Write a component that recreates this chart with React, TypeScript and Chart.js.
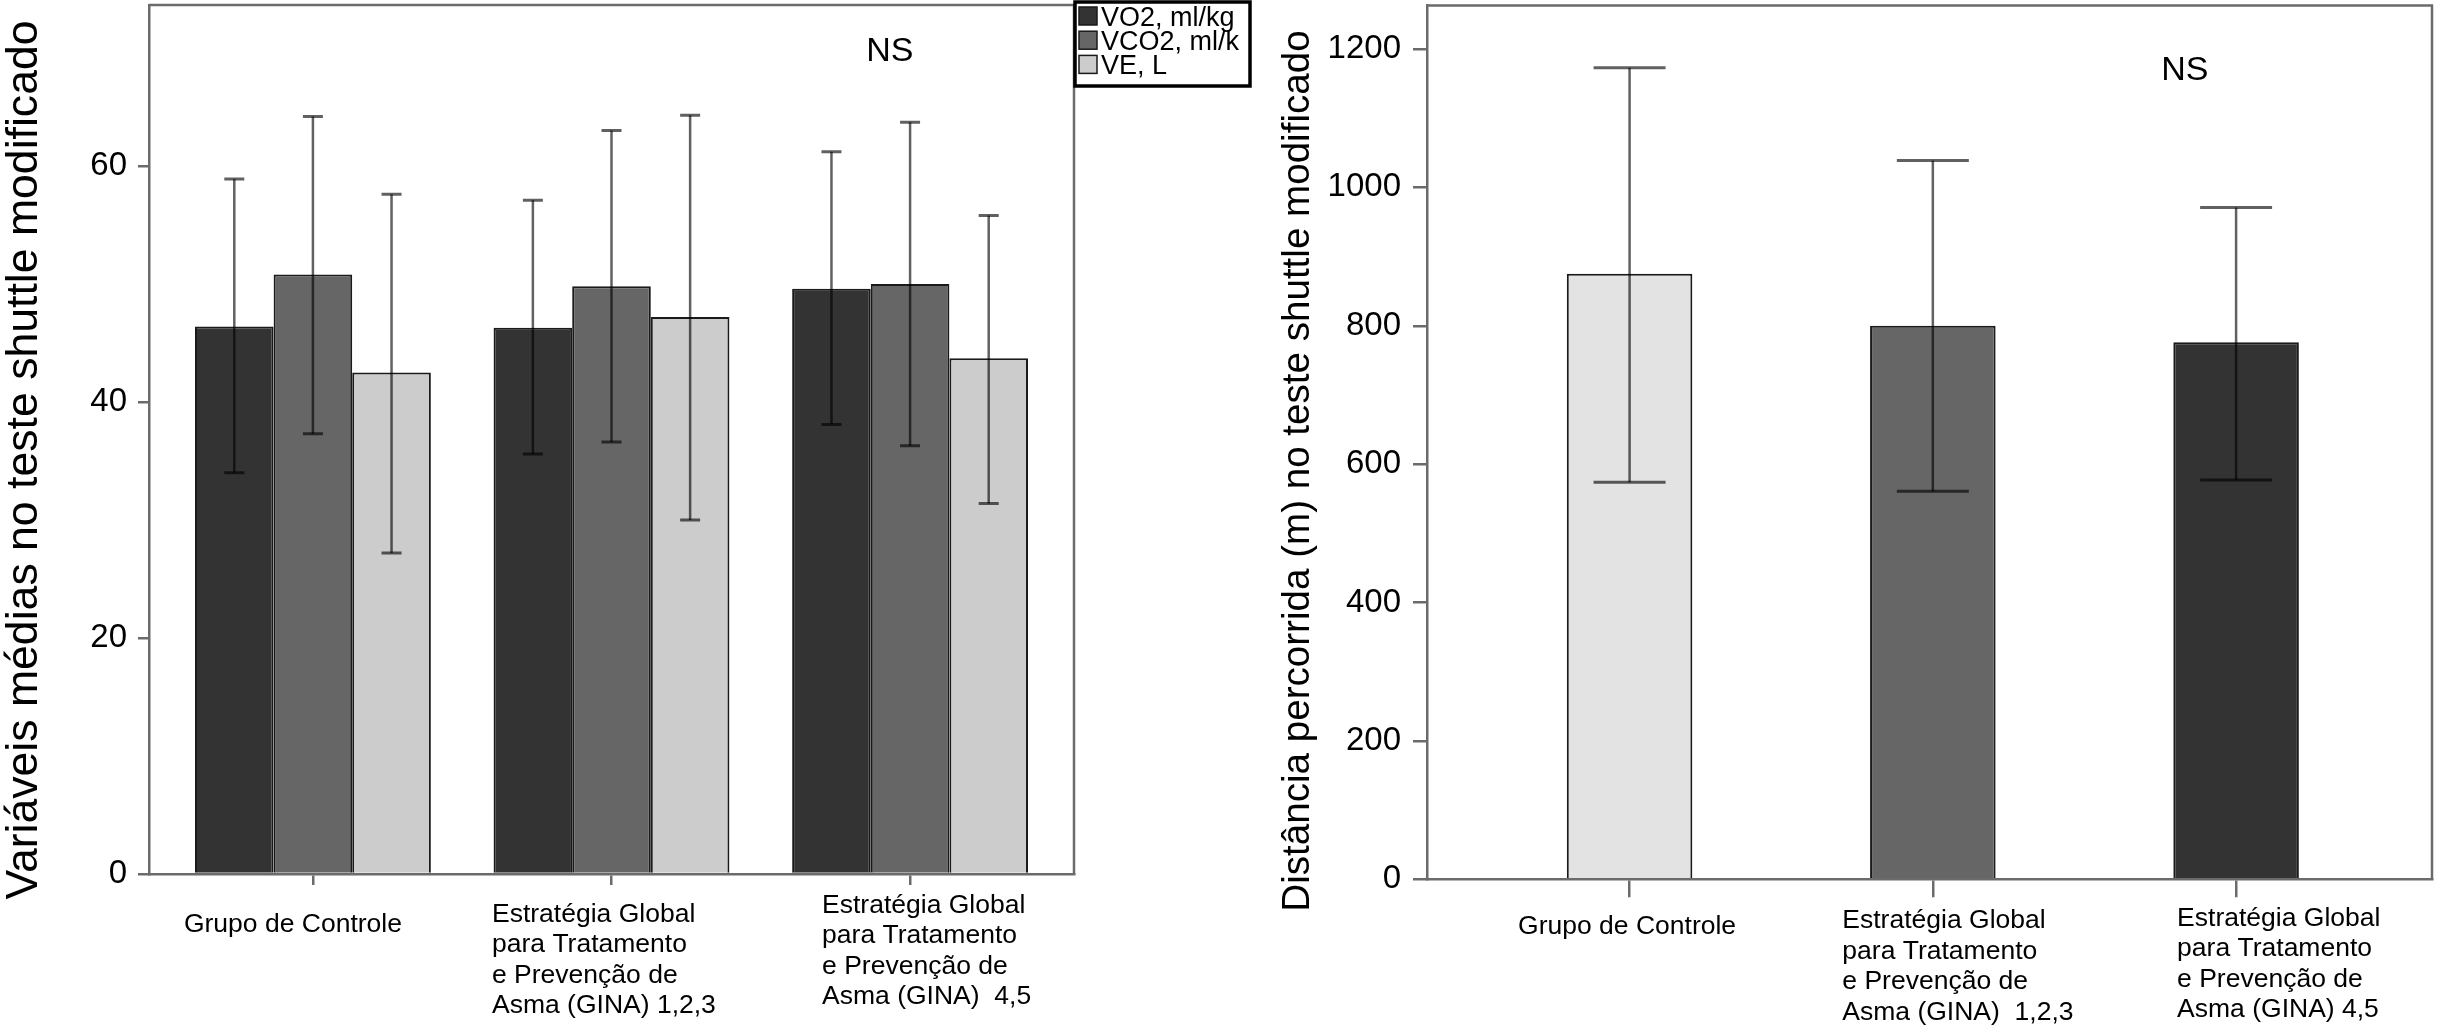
import { useEffect, useRef } from 'react';
import { Chart, registerables } from 'chart.js';

Chart.register(...registerables);

const FONT = "'Liberation Sans', Arial, Helvetica, sans-serif";
const AXIS_GREY = '#6b6b6b';

// ---- left panel: gas exchange variables ----
const gasGroups = [
  ['Grupo de Controle'],
  ['Estratégia Global', 'para Tratamento', 'e Prevenção de', 'Asma (GINA) 1,2,3'],
  ['Estratégia Global', 'para Tratamento', 'e Prevenção de', 'Asma (GINA)  4,5'],
];
const gasSeries = ['VO2, ml/kg', 'VCO2, ml/kg', 'VE, L'];
const vo2Mean = [46.4, 46.3, 49.6];
const vo2Low = [34.0, 35.6, 38.1];
const vo2High = [58.9, 57.1, 61.2];
const vco2Mean = [50.8, 49.8, 50.0];
const vco2Low = [37.3, 36.6, 36.3];
const vco2High = [64.2, 63.0, 63.7];
const veMean = [42.5, 47.2, 43.7];
const veLow = [27.2, 30.0, 31.4];
const veHigh = [57.6, 64.3, 55.8];
const gasTicks = [0, 20, 40, 60];

// ---- right panel: distance walked ----
const distGroups = [
  ['Grupo de Controle'],
  ['Estratégia Global', 'para Tratamento', 'e Prevenção de', 'Asma (GINA)  1,2,3'],
  ['Estratégia Global', 'para Tratamento', 'e Prevenção de', 'Asma (GINA) 4,5'],
];
const distMean = [875, 800, 776];
const distLow = [574, 561, 577];
const distHigh = [1173, 1039, 971];
const distTicks = [0, 200, 400, 600, 800, 1000, 1200];

interface DecorOptions {
  low: number[][];
  high: number[][];
  cap: number;
  groups: string[][];
  nudge: { dx: number; dy: number }[];
  ns: { fx: number; fy: number };
  title: { text: string; size: number; baseX: number; midY: number };
  legend?: { w: number; h: number; y: number };
}

// frame, error bars, axis title, group labels, "NS" note and the small legend box
function decorPlugin(o: DecorOptions) {
  return {
    id: 'decor',
    beforeDatasetsDraw(chart: any) {
      const { ctx, chartArea: a } = chart;
      ctx.save();
      ctx.strokeStyle = AXIS_GREY;
      ctx.lineWidth = 2.5;
      ctx.beginPath();
      ctx.moveTo(a.left, a.top);
      ctx.lineTo(a.right, a.top);
      ctx.lineTo(a.right, a.bottom);
      ctx.stroke();
      ctx.restore();
    },
    afterDatasetsDraw(chart: any) {
      const { ctx } = chart;
      const y = chart.scales.y;
      ctx.save();
      ctx.strokeStyle = 'rgba(0,0,0,0.62)';
      chart.data.datasets.forEach((_: any, i: number) => {
        const meta = chart.getDatasetMeta(i);
        meta.data.forEach((bar: any, j: number) => {
          const top = y.getPixelForValue(o.high[i][j]);
          const bot = y.getPixelForValue(o.low[i][j]);
          ctx.lineWidth = 2.5;
          ctx.beginPath();
          ctx.moveTo(bar.x, top);
          ctx.lineTo(bar.x, bot);
          ctx.stroke();
          ctx.lineWidth = 3;
          ctx.beginPath();
          ctx.moveTo(bar.x - o.cap / 2, top);
          ctx.lineTo(bar.x + o.cap / 2, top);
          ctx.moveTo(bar.x - o.cap / 2, bot);
          ctx.lineTo(bar.x + o.cap / 2, bot);
          ctx.stroke();
        });
      });
      ctx.restore();
    },
    afterDraw(chart: any) {
      const { ctx, chartArea: a } = chart;
      const x = chart.scales.x;
      ctx.save();
      ctx.fillStyle = '#000';

      // y axis title, rotated
      ctx.save();
      ctx.translate(o.title.baseX, o.title.midY);
      ctx.rotate(-Math.PI / 2);
      ctx.font = `${o.title.size}px ${FONT}`;
      ctx.textAlign = 'center';
      ctx.textBaseline = 'alphabetic';
      ctx.fillText(o.title.text, 0, 0);
      ctx.restore();

      ctx.textAlign = 'left';
      ctx.textBaseline = 'alphabetic';
      ctx.font = `26.5px ${FONT}`;
      o.groups.forEach((lines, i) => {
        const px = x.getPixelForValue(i) + o.nudge[i].dx;
        lines.forEach((line, k) => {
          ctx.fillText(line, px, a.bottom + o.nudge[i].dy + k * 30.5);
        });
      });

      ctx.font = `34px ${FONT}`;
      ctx.textAlign = 'center';
      ctx.textBaseline = 'middle';
      ctx.fillText('NS', a.left + o.ns.fx * (a.right - a.left), a.top + o.ns.fy * (a.bottom - a.top));

      if (o.legend) {
        const lx = a.right;
        const { w, h, y: ly } = o.legend;
        ctx.fillStyle = '#fff';
        ctx.fillRect(lx, ly, w, h);
        ctx.save();
        ctx.beginPath();
        ctx.rect(lx, ly, w - 11, h);
        ctx.clip();
        ctx.font = `27px ${FONT}`;
        ctx.textAlign = 'left';
        ctx.textBaseline = 'alphabetic';
        chart.data.datasets.forEach((ds: any, i: number) => {
          const base = ly + 25 + i * 24.2;
          ctx.fillStyle = ds.backgroundColor;
          ctx.fillRect(lx + 5, base - 19, 18, 18);
          ctx.strokeStyle = '#1a1a1a';
          ctx.lineWidth = 1.5;
          ctx.strokeRect(lx + 5, base - 19, 18, 18);
          ctx.fillStyle = '#000';
          ctx.fillText(ds.label, lx + 27, base);
        });
        ctx.restore();
        ctx.strokeStyle = '#000';
        ctx.lineWidth = 3.5;
        ctx.strokeRect(lx + 1, ly + 1, w - 2, h - 2);
      }
      ctx.restore();
    },
  };
}

function axisX(min: number, max: number, count: number, height: number, tickLength: number) {
  return {
    type: 'linear',
    offset: false,
    min,
    max,
    afterBuildTicks: (s: any) => {
      s.ticks = Array.from({ length: count }, (_, i) => ({ value: i }));
    },
    afterFit: (s: any) => {
      s.height = height;
      s.paddingLeft = 0;
      s.paddingRight = 0;
    },
    ticks: { display: false },
    grid: { offset: false, drawOnChartArea: false, drawTicks: true, tickLength, color: AXIS_GREY, lineWidth: 2.5 },
    border: { display: true, color: AXIS_GREY, width: 2.5, z: 1 },
  };
}

function axisY(max: number, ticks: number[], width: number, tickLength: number, padding: number) {
  return {
    min: 0,
    max,
    afterBuildTicks: (s: any) => {
      s.ticks = ticks.map((v) => ({ value: v }));
    },
    afterFit: (s: any) => {
      s.width = width;
      s.paddingTop = 0;
      s.paddingBottom = 0;
    },
    ticks: { color: '#000', padding, font: { size: 33, family: FONT }, callback: (v: any) => String(v) },
    grid: { drawOnChartArea: false, drawTicks: true, tickLength, color: AXIS_GREY, lineWidth: 2.5 },
    border: { display: true, color: AXIS_GREY, width: 2.5, z: 1 },
    title: { display: false },
  };
}

function gasConfig(): any {
  const bar = (label: string, values: number[], color: string) => ({
    label,
    data: values.map((y, i) => ({ x: i, y })),
    backgroundColor: color,
    borderColor: '#1a1a1a',
    borderWidth: 2,
    categoryPercentage: 0.79,
    barPercentage: 1,
  });
  return {
    type: 'bar',
    data: {
      datasets: [
        bar(gasSeries[0], vo2Mean, '#333333'),
        bar(gasSeries[1], vco2Mean, '#666666'),
        bar(gasSeries[2], veMean, '#cccccc'),
      ],
    },
    options: {
      animation: false,
      responsive: true,
      maintainAspectRatio: false,
      layout: { padding: { top: 5, right: 186, left: 0, bottom: 0 } },
      plugins: { legend: { display: false }, tooltip: { enabled: false } },
      scales: {
        x: axisX(-0.549, 2.549, gasGroups.length, 160, 11),
        y: axisY(73.64, gasTicks, 149, 11, 11),
      },
    },
    plugins: [
      decorPlugin({
        low: [vo2Low, vco2Low, veLow],
        high: [vo2High, vco2High, veHigh],
        cap: 20,
        groups: gasGroups,
        nudge: [
          { dx: -129, dy: 57.7 },
          { dx: -119.5, dy: 47.5 },
          { dx: -88, dy: 38.8 },
        ],
        ns: { fx: 0.801, fy: 0.0535 },
        title: { text: 'Variáveis médias no teste shuttle modificado', size: 44.6, baseX: 37, midY: 460 },
        legend: { w: 177, h: 86, y: 1 },
      }),
    ],
  };
}

function distConfig(): any {
  return {
    type: 'bar',
    data: {
      datasets: [
        {
          label: 'Distância percorrida',
          data: distMean.map((y, i) => ({ x: i, y })),
          backgroundColor: ['#e3e3e3', '#666666', '#333333'],
          borderColor: '#1a1a1a',
          borderWidth: 2,
          categoryPercentage: 0.414,
          barPercentage: 1,
        },
      ],
    },
    options: {
      animation: false,
      responsive: true,
      maintainAspectRatio: false,
      layout: { padding: { top: 5.4, right: 9, left: 0, bottom: 0 } },
      plugins: { legend: { display: false }, tooltip: { enabled: false } },
      scales: {
        x: axisX(-0.668, 2.646, distGroups.length, 154.7, 18),
        y: axisY(1263, distTicks, 167, 14, 12),
      },
    },
    plugins: [
      decorPlugin({
        low: [distLow],
        high: [distHigh],
        cap: 72,
        groups: distGroups,
        nudge: [
          { dx: -111.5, dy: 54.7 },
          { dx: -90.5, dy: 48.7 },
          { dx: -59, dy: 46.5 },
        ],
        ns: { fx: 0.754, fy: 0.075 },
        title: { text: 'Distância percorrida (m) no teste shuttle modificado', size: 38.6, baseX: 49, midY: 471 },
      }),
    ],
  };
}

function ChartBox({ left, width, build }: { left: number; width: number; build: () => any }) {
  const canvasRef = useRef<HTMLCanvasElement>(null);

  useEffect(() => {
    if (!canvasRef.current) return;
    const chart = new Chart(canvasRef.current, build());
    return () => chart.destroy();
  }, [build]);

  return (
    <div style={{ position: 'absolute', left, top: 0, width, height: 1034 }}>
      <canvas ref={canvasRef} />
    </div>
  );
}

export default function App() {
  return (
    <div style={{ position: 'fixed', left: 0, top: 0, width: 2441, height: 1034, background: '#fff', overflow: 'hidden' }}>
      <ChartBox left={0} width={1260} build={gasConfig} />
      <ChartBox left={1260} width={1181} build={distConfig} />
    </div>
  );
}
